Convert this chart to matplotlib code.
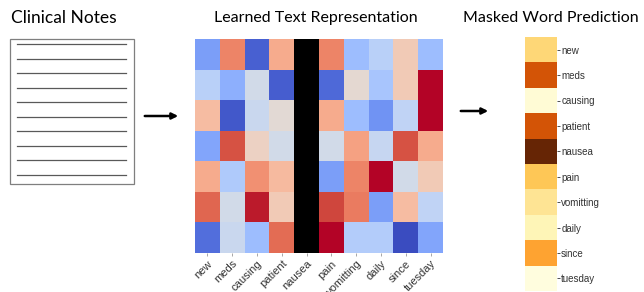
import numpy as np
import matplotlib.pyplot as plt
from matplotlib.patches import Rectangle

# ---------------------------------------------------------
# Data
# ---------------------------------------------------------
words = ["new", "meds", "causing", "patient", "nausea", "pain",
         "vomitting", "daily", "since", "tuesday"]
masked_word = "nausea"

# learned representation (7 dims x 10 tokens), coolwarm scale 0..1
rep = np.array([
    [0.20, 0.80, 0.05, 0.70, 0.0, 0.80, 0.30, 0.38, 0.60, 0.30],
    [0.38, 0.25, 0.46, 0.04, 0.0, 0.07, 0.53, 0.33, 0.60, 1.00],
    [0.65, 0.03, 0.43, 0.52, 0.0, 0.70, 0.30, 0.17, 0.40, 1.00],
    [0.22, 0.90, 0.57, 0.46, 0.0, 0.46, 0.73, 0.42, 0.90, 0.70],
    [0.70, 0.35, 0.77, 0.66, 0.0, 0.20, 0.80, 1.00, 0.46, 0.60],
    [0.86, 0.46, 0.98, 0.60, 0.0, 0.92, 0.82, 0.20, 0.65, 0.40],
    [0.08, 0.43, 0.30, 0.85, 0.0, 1.00, 0.36, 0.36, 0.00, 0.22],
])

# predicted probability for each word at the masked slot
pred = [0.30, 0.72, 0.05, 0.72, 1.00, 0.36, 0.24, 0.14, 0.47, 0.02]

plt.rcParams['font.family'] = ['Liberation Sans', 'DejaVu Sans']

fig = plt.figure(figsize=(6.44, 2.92), dpi=100)
W, H = 644, 292

# overlay for titles, document sketch, arrows
ov = fig.add_axes([0, 0, 1, 1])
ov.set_xlim(0, W)
ov.set_ylim(H, 0)
ov.axis("off")

title_kw = dict(va="center", fontsize=11.5, color="black",
                family=["Lato", "DejaVu Sans"])
ov.text(64, 18, "Clinical Notes", ha="center", fontsize=12.5,
        **{k: v for k, v in title_kw.items() if k != "fontsize"})
ov.text(316, 18, "Learned Text Representation", ha="center", **title_kw)
ov.text(463, 18, "Masked Word Prediction", ha="left", **title_kw)

# document
ov.add_patch(Rectangle((10, 39), 124, 145, fill=False, ec="#7f7f7f", lw=0.9))
for y in np.linspace(44, 175, 10):
    ov.plot([17, 126], [y, y], color="#595959", lw=0.9)

# arrows
ov.annotate("", xy=(181, 116), xytext=(142, 116),
            arrowprops=dict(arrowstyle="-|>", color="black", lw=1.8,
                            mutation_scale=9))
ov.annotate("", xy=(491, 111), xytext=(458, 111),
            arrowprops=dict(arrowstyle="-|>", color="black", lw=1.8,
                            mutation_scale=9))

# ---------------------------------------------------------
# Heatmap
# ---------------------------------------------------------
ax = fig.add_axes([195 / W, 1 - 253 / H, 248 / W, 214 / H])
mask = np.zeros_like(rep, dtype=bool)
mask[:, words.index(masked_word)] = True
cmap = plt.get_cmap("coolwarm").copy()
cmap.set_bad("black")
ax.imshow(np.ma.array(rep, mask=mask), cmap=cmap, vmin=0, vmax=1,
          aspect="auto", interpolation="nearest")
ax.set_xticks(range(len(words)))
ax.set_xticklabels(words, rotation=45, ha="right", rotation_mode="anchor",
                   fontsize=8, color="#333333")
ax.set_yticks([])
ax.tick_params(axis="x", length=2, width=0.6, color="#999999", pad=2)
for s in ax.spines.values():
    s.set_visible(False)

# ---------------------------------------------------------
# Prediction bar
# ---------------------------------------------------------
bx = fig.add_axes([525 / W, 1 - 291 / H, 32 / W, 254 / H])
bx.imshow(np.array(pred)[:, None], cmap="YlOrBr", vmin=0, vmax=1,
          aspect="auto", interpolation="nearest")
bx.set_xticks([])
bx.yaxis.tick_right()
bx.set_yticks(range(len(words)))
bx.set_yticklabels(words, fontsize=7, color="#333333")
bx.tick_params(axis="y", length=2, width=0.6, color="#333333", pad=1)
for s in bx.spines.values():
    s.set_visible(False)

fig.savefig("out.png", dpi=100)
